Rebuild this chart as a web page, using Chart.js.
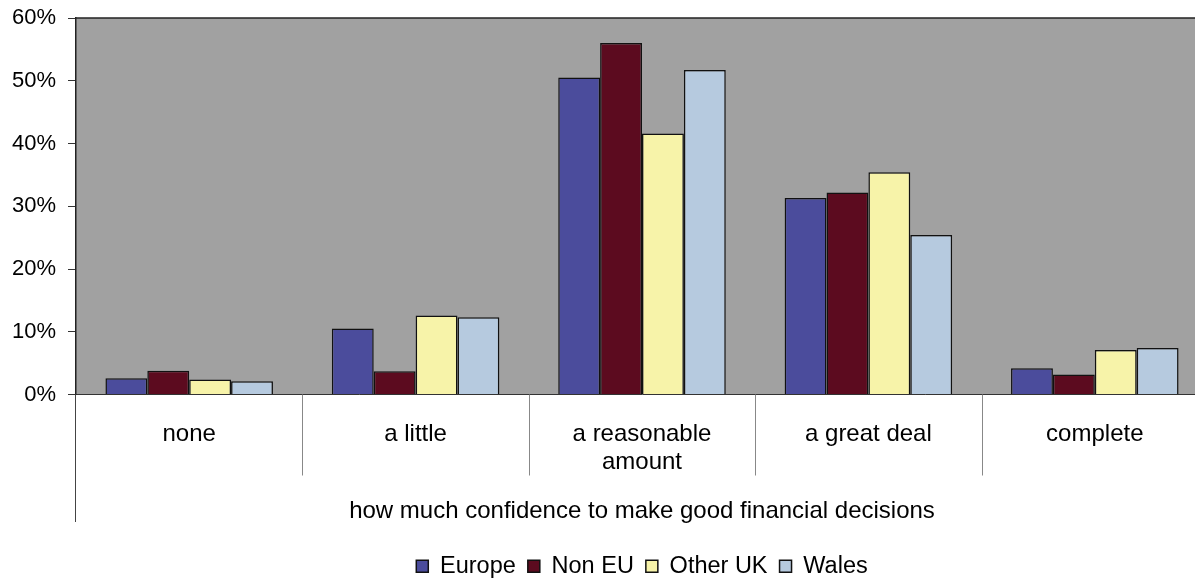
<!DOCTYPE html>
<html>
<head>
<meta charset="utf-8">
<script src="https://cdn.jsdelivr.net/npm/chart.js@4/dist/chart.umd.min.js"></script>
<style>
  html, body { margin: 0; padding: 0; background: #fff; overflow: hidden; }
  canvas { display: block; }
</style>
</head>
<body>
<canvas id="chart" width="1215" height="582"></canvas>
<script>
// confidence answers, percent of respondents in each group
const categories = ['none', 'a little', ['a reasonable', 'amount'], 'a great deal', 'complete']
const europe  = [2.6, 10.5, 50.5, 31.3, 4.2]
const nonEu   = [3.8, 3.7, 56.0, 32.2, 3.2]
const otherUk = [2.4, 12.6, 41.6, 35.4, 7.1]
const wales   = [2.1, 12.3, 51.7, 25.4, 7.4]
const yTicks  = [0, 10, 20, 30, 40, 50, 60]

const family = '"Liberation Sans", Arial, sans-serif'
Chart.defaults.color = '#000'

// grey plot area, top frame line, category dividers and the long left rule
const frame = {
    id: 'frame',
    beforeDraw(chart) {
        const { ctx, chartArea: a } = chart
        ctx.save()
        ctx.fillStyle = '#a1a1a1'
        ctx.fillRect(a.left, a.top, a.right - a.left, a.bottom - a.top)
        ctx.restore()
    },
    afterDraw(chart) {
        const { ctx, chartArea: a } = chart
        const x = chart.scales.x
        const step = (a.right - a.left) / categories.length
        ctx.save()
        ctx.strokeStyle = '#222'
        ctx.lineWidth = 1.5
        ctx.beginPath()
        ctx.moveTo(a.left, a.top)
        ctx.lineTo(a.right, a.top)
        ctx.stroke()

        ctx.strokeStyle = '#888'
        ctx.lineWidth = 1
        for (let i = 1; i < categories.length; i++) {
            let px = Math.round(x.getPixelForValue(i) - step / 2) + 0.5
            ctx.beginPath()
            ctx.moveTo(px, a.bottom)
            ctx.lineTo(px, a.bottom + 81)
            ctx.stroke()
        }
        ctx.strokeStyle = '#444'
        ctx.beginPath()
        ctx.moveTo(a.left - 0.5, a.bottom)
        ctx.lineTo(a.left - 0.5, 522)
        ctx.stroke()
        ctx.restore()
    }
}

function series(label, data, color) {
    return {
        label: label,
        data: data,
        backgroundColor: color,
        borderColor: '#111',
        borderWidth: 1.5,
        categoryPercentage: 0.74,
        barPercentage: 1
    }
}

new Chart(document.getElementById('chart'), {
    type: 'bar',
    data: {
        labels: categories,
        datasets: [
            series('Europe', europe, '#4b4c9c'),
            series('Non EU', nonEu, '#5c0b1f'),
            series('Other UK', otherUk, '#f7f3a9'),
            series('Wales', wales, '#b6cadf')
        ]
    },
    options: {
        responsive: false,
        animation: false,
        layout: { padding: { top: 18, right: 7, left: 0, bottom: -6 } },
        plugins: {
            legend: {
                position: 'bottom',
                fullSize: false,
                labels: {
                    font: { family: family, size: 23.5 },
                    boxWidth: 12,
                    boxHeight: 12,
                    padding: 12,
                    useBorderRadius: false
                }
            },
            tooltip: { enabled: false }
        },
        scales: {
            x: {
                afterFit(scale) { scale.height = 148 },
                border: { display: true, color: '#333', width: 1 },
                grid: { display: false, drawTicks: false },
                ticks: {
                    font: { family: family, size: 24, lineHeight: 1.2 },
                    padding: 25,
                    maxRotation: 0,
                    autoSkip: false
                },
                title: {
                    display: true,
                    text: 'how much confidence to make good financial decisions',
                    font: { family: family, size: 24 },
                    padding: { top: 0, bottom: 17 }
                }
            },
            y: {
                min: 0,
                max: 60,
                afterFit(scale) {
                    scale.width = 76
                    scale.paddingTop = 0
                    scale.paddingBottom = 0
                },
                afterBuildTicks(scale) { scale.ticks = yTicks.map(v => ({ value: v })) },
                border: { display: true, color: '#222', width: 1.5 },
                grid: {
                    drawOnChartArea: false,
                    drawTicks: true,
                    tickLength: 8,
                    color: '#333'
                },
                ticks: {
                    font: { family: family, size: 22 },
                    padding: 12,
                    callback: v => v + '%'
                }
            }
        }
    },
    plugins: [frame]
})
</script>
</body>
</html>
